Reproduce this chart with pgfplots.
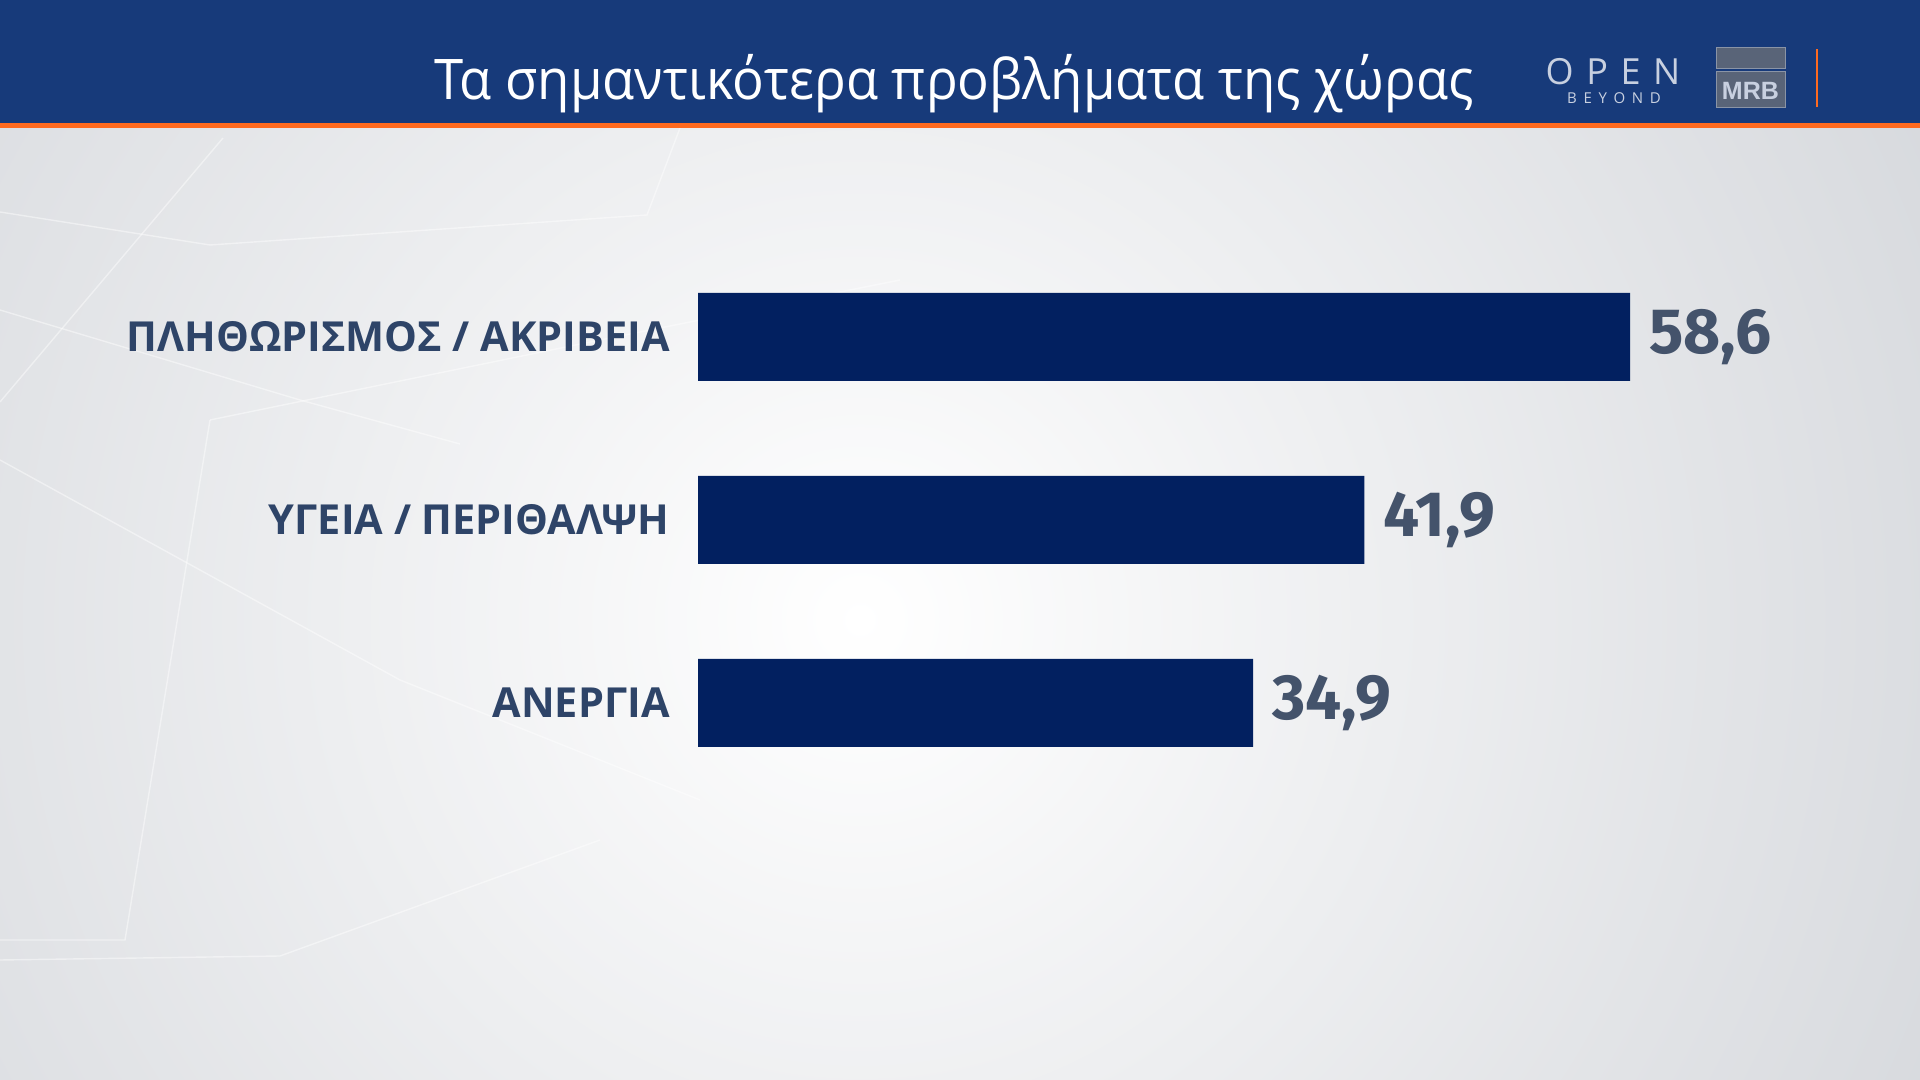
\documentclass[border=0pt]{standalone}
\usepackage{fontspec}
\setmainfont{Open Sans}
\newfontfamily\valfont{Fira Sans}
\newfontfamily\arfont{Liberation Sans}
\usepackage{pgfplots}
\usepackage{pgfplotstable}
\pgfplotsset{compat=1.18}
\definecolor{hdr}{HTML}{173A7A}
\definecolor{orng}{HTML}{FF6A1F}
\definecolor{barc}{HTML}{022060}
\definecolor{labc}{HTML}{2E4468}
\definecolor{valc}{HTML}{44536B}
\definecolor{bgout}{HTML}{BDC1C8}
\definecolor{logoc}{HTML}{C8D0E0}
\definecolor{mrbf}{HTML}{596478}
\definecolor{mrbd}{HTML}{8A94A6}
\pgfplotstableread{
y val lab
0 58.6 58,6
1 41.9 41,9
2 34.9 34,9
}\datatable
\begin{document}
\begin{tikzpicture}[x=1pt,y=1pt]
% background
\begin{scope}
\clip (0,0) rectangle (960,476);
\fill[bgout] (0,0) rectangle (960,476);
\shade[inner color=white, outer color=bgout] (430,230) circle (980);
% faint decorative lines
\begin{scope}[draw=white, opacity=0.45, line width=0.7pt]
\draw (0,339) -- (111.5,471);
\draw (0,434) -- (105,417.5) -- (323.5,432.5) -- (340,476);
\draw (105,330) -- (62.5,70) -- (0,70);
\draw (105,330) -- (300,370) -- (450,400);
\draw (0,60) -- (140,62) -- (300,120);
\draw (0,310) -- (200,200) -- (350,140);
\draw (0,385) -- (150,340) -- (230,318);
\end{scope}
\end{scope}
% header
\fill[hdr] (0,478.5) rectangle (960,540);
\fill[orng] (0,476) rectangle (960,478.5);
\node[anchor=base, text=white, inner sep=0pt] at (477,490) {\scalebox{0.94}[1]{\fontsize{28}{32}\selectfont Τα σημαντικότερα προβλήματα της χώρας}};
% logos
\node[text=logoc, inner sep=0pt] at (806.5,504) {\fontsize{18}{20}\selectfont\addfontfeatures{LetterSpace=35}OPEN};
\node[text=logoc, inner sep=0pt] at (807,491) {\fontsize{7.5}{9}\selectfont\addfontfeatures{LetterSpace=45}BEYOND};
\fill[mrbf, draw=mrbd, line width=0.5pt] (858,505.5) rectangle (892.5,516);
\fill[mrbf, draw=mrbd, line width=0.5pt] (858,486) rectangle (892.5,504);
\node[text=logoc, inner sep=0pt] at (875.2,494.5) {\arfont\bfseries\fontsize{12.5}{14}\selectfont MRB};
\fill[orng] (907.8,486.5) rectangle (909.2,515.5);
% chart
\begin{axis}[
  at={(349pt,142.75pt)}, anchor=south west,
  scale only axis, width=556.66pt, height=274.5pt,
  xmin=0, xmax=70, ymin=-0.5, ymax=2.5, y dir=reverse,
  xbar, bar width=44pt,
  axis line style={draw=none},
  xtick=\empty, ytick={0,1,2},
  yticklabels={ΠΛΗΘΩΡΙΣΜΟΣ / ΑΚΡΙΒΕΙΑ, ΥΓΕΙΑ / ΠΕΡΙΘΑΛΨΗ, ΑΝΕΡΓΙΑ},
  major tick length=0pt,
  yticklabel style={font=\fontsize{20.7}{24}\selectfont\bfseries, text=labc, inner sep=0pt, xshift=-14pt},
  nodes near coords,
  point meta=explicit symbolic,
  nodes near coords style={font=\valfont\bfseries\fontsize{32}{36}\selectfont, text=valc, anchor=west, inner sep=0pt, xshift=9.5pt},
  clip=false,
]
\addplot[fill=barc, draw=none] table[x=val, y=y, meta=lab] {\datatable};
\end{axis}
\end{tikzpicture}
\end{document}
